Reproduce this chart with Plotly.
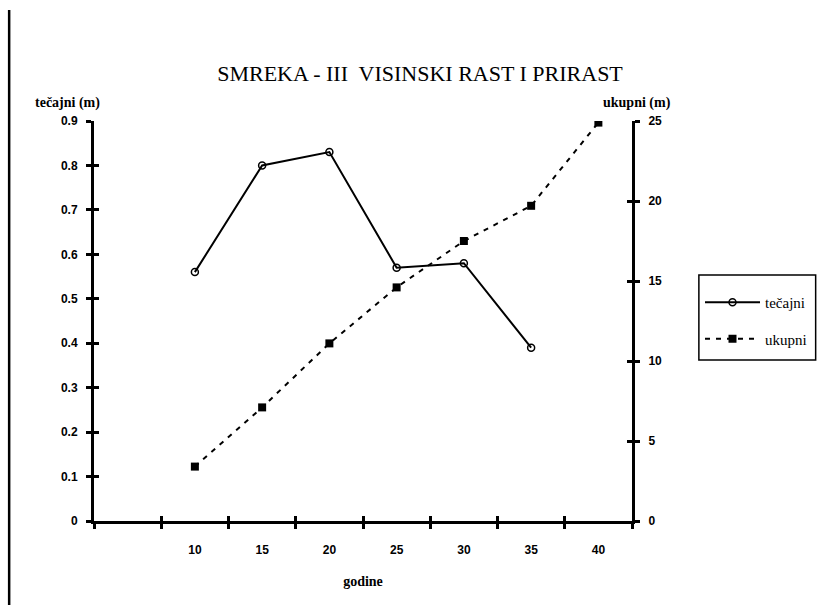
import plotly.graph_objects as go

# ---- data ----
years = [10, 15, 20, 25, 30, 35, 40]
tecajni_years = [10, 15, 20, 25, 30, 35]
tecajni = [0.56, 0.80, 0.83, 0.57, 0.58, 0.39]
ukupni_years = [10, 15, 20, 25, 30, 35, 40]
ukupni = [3.4, 7.1, 11.1, 14.6, 17.5, 19.7, 24.9]
x_tick_labels = ["10", "15", "20", "25", "30", "35", "40"]
left_ticks = [0, 0.1, 0.2, 0.3, 0.4, 0.5, 0.6, 0.7, 0.8, 0.9]
left_tick_labels = ["0", "0.1", "0.2", "0.3", "0.4", "0.5", "0.6", "0.7", "0.8", "0.9"]
right_ticks = [0, 5, 10, 15, 20, 25]
# category boundaries (tick marks between categories, incl. one empty leading category)
x_boundaries = [2.5, 7.5, 12.5, 17.5, 22.5, 27.5, 32.5, 37.5, 42.5]

W, H = 823, 611
L, R, T, B = 94, 633, 121, 521
PW, PH = R - L, B - T

def px(x):
    return (x - L) / PW

def py(y):
    return (B - y) / PH

serif = "Liberation Serif"
sans = "Liberation Sans"

fig = go.Figure()

fig.add_trace(go.Scatter(
    x=tecajni_years, y=tecajni, name="tečajni", mode="lines+markers",
    line=dict(color="black", width=2),
    marker=dict(symbol="circle-open", size=7, color="black", line=dict(width=1.5)),
    xaxis="x", yaxis="y", legendgroup="a",
))
fig.add_trace(go.Scatter(
    x=ukupni_years, y=ukupni, name="ukupni", mode="lines+markers",
    line=dict(color="black", width=2, dash="5px,6px"),
    marker=dict(symbol="square", size=8, color="black"),
    xaxis="x", yaxis="y2", legendgroup="b",
))
# invisible helper traces so the overlay axes (for crossing ticks) are drawn
fig.add_trace(go.Scatter(x=[None], y=[None], xaxis="x2", yaxis="y3",
                         showlegend=False, hoverinfo="skip"))
fig.add_trace(go.Scatter(x=[None], y=[None], xaxis="x2", yaxis="y4",
                         showlegend=False, hoverinfo="skip"))

tickfont = dict(family=sans, size=12, color="black", weight="bold")
xr = [x_boundaries[0], x_boundaries[-1]]

fig.update_layout(
    width=W, height=H,
    margin=dict(l=L, r=W - R, t=T, b=H - B),
    paper_bgcolor="white", plot_bgcolor="white",
    title=dict(text="SMREKA - III  VISINSKI RAST I PRIRAST",
               font=dict(family=serif, size=22, color="black"),
               x=420 / W, xanchor="center", y=1 - 73 / H, yanchor="middle"),
    xaxis=dict(range=xr, tickvals=years, ticktext=x_tick_labels, ticks="",
               showline=True, linecolor="black", linewidth=3, showgrid=False,
               zeroline=False, tickfont=tickfont, ticklabelstandoff=16,
               minor=dict(tickvals=x_boundaries, ticks="outside", ticklen=5,
                          tickwidth=3, tickcolor="black", showgrid=False),
               title=dict(text="godine", font=dict(family=serif, size=14, color="black",
                                                    weight="bold"),
                          standoff=20),
               anchor="y"),
    xaxis2=dict(range=xr, overlaying="x", anchor="y", side="bottom",
                tickvals=x_boundaries, ticks="inside", ticklen=5, tickwidth=3,
                tickcolor="black", showticklabels=False, showline=False,
                showgrid=False, zeroline=False),
    yaxis=dict(range=[0, 0.9], tickvals=left_ticks, ticktext=left_tick_labels,
               ticks="outside", ticklen=5, tickwidth=3, tickcolor="black",
               showline=True, linecolor="black", linewidth=3, showgrid=False,
               zeroline=False, tickfont=tickfont, ticklabelstandoff=6),
    yaxis2=dict(range=[0, 25], tickvals=right_ticks, overlaying="y", side="right",
                anchor="x", ticks="outside", ticklen=5, tickwidth=3, tickcolor="black",
                showline=True, linecolor="black", linewidth=3, showgrid=False,
                zeroline=False, tickfont=tickfont, ticklabelstandoff=6),
    yaxis3=dict(range=[0, 0.9], tickvals=left_ticks, overlaying="y", side="left",
                anchor="x2", ticks="inside", ticklen=5, tickwidth=3, tickcolor="black",
                showticklabels=False, showline=False, showgrid=False, zeroline=False),
    yaxis4=dict(range=[0, 25], tickvals=right_ticks, overlaying="y", side="right",
                anchor="x2", ticks="inside", ticklen=5, tickwidth=3, tickcolor="black",
                showticklabels=False, showline=False, showgrid=False, zeroline=False),
    legend=dict(x=px(700), y=py(286), xanchor="left", yanchor="top",
                borderwidth=0, bgcolor="rgba(0,0,0,0)",
                font=dict(family=serif, size=15, color="black"),
                itemwidth=55,
                traceorder="grouped", tracegroupgap=14),
    showlegend=True,
)

fig.add_annotation(text="tečajni (m)", xref="paper", yref="paper",
                   x=px(67), y=py(103),
                   xanchor="center", yanchor="middle", showarrow=False,
                   font=dict(family=serif, size=14, color="black", weight="bold"))
fig.add_annotation(text="ukupni (m)", xref="paper", yref="paper",
                   x=px(638), y=py(103),
                   xanchor="center", yanchor="middle", showarrow=False,
                   font=dict(family=serif, size=14, color="black", weight="bold"))

# legend frame
fig.add_shape(type="rect", xref="paper", yref="paper",
              x0=px(700), x1=px(817), y0=py(275), y1=py(360),
              line=dict(color="black", width=1.5), layer="below")

# scanned frame edge on the left
fig.add_shape(type="line", xref="paper", yref="paper",
              x0=px(9), x1=px(9), y0=py(10), y1=py(605),
              line=dict(color="black", width=2.5))

fig.write_html("out.html", config={"displayModeBar": False},
               post_script="document.body.style.margin='0';document.body.style.overflow='hidden';")
